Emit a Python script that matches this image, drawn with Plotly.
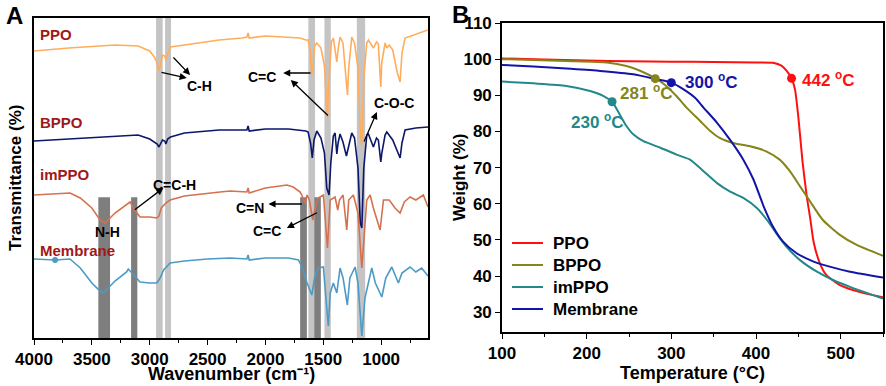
import plotly.graph_objects as go

# ---------------- Panel A: FTIR (wavenumber, transmittance in arbitrary offset units) -------------
wn_ppo = [4000, 3700, 3300, 3100, 3000, 2960, 2935, 2920, 2910, 2890, 2870, 2860, 2845, 2820, 2700,
          2500, 2400, 2200, 2160, 2150, 2140, 2000, 1800, 1700, 1650, 1631, 1610, 1600, 1590, 1575,
          1556, 1520, 1490, 1470, 1464, 1455, 1430, 1413, 1395, 1383, 1370, 1355, 1330, 1300, 1291,
          1280, 1254, 1230, 1200, 1180, 1167, 1150, 1124, 1110, 1067, 1040, 1024, 1010, 1003, 995,
          966, 951, 930, 900, 860, 836, 820, 793, 700, 663, 595]
tr_ppo = [287, 290, 293, 292, 287, 281, 275, 267, 272, 283, 282, 278, 284, 291, 293,
          296, 298, 300, 301, 305, 300, 302, 301, 300, 298, 298, 285, 263, 272, 292,
          295, 290, 272, 225, 220, 250, 296, 300, 286, 276, 290, 301, 295, 255, 243,
          270, 301, 295, 270, 205, 193, 260, 295, 298, 290, 296, 294, 265, 251, 275,
          295, 290, 293, 288, 265, 256, 285, 300, 304, 305, 308]

wn_bppo = [4000, 3700, 3300, 3100, 3000, 2960, 2935, 2920, 2910, 2890, 2870, 2860, 2845, 2820, 2700,
           2500, 2400, 2160, 2150, 2140, 2000, 1800, 1700, 1650, 1631, 1610, 1595, 1580, 1556, 1520,
           1490, 1470, 1450, 1435, 1413, 1398, 1383, 1372, 1355, 1330, 1300, 1286, 1254, 1230, 1200,
           1180, 1167, 1150, 1124, 1110, 1081, 1067, 1040, 1024, 1003, 994, 966, 951, 900, 851,
           836, 820, 793, 700, 595]
tr_bppo = [197, 199, 202, 203, 199, 196, 194, 191, 194, 198, 197, 194, 199, 201, 205,
           207, 208, 208, 212, 207, 209, 209, 208, 207, 206, 195, 180, 198, 207, 200,
           185, 150, 143, 175, 202, 205, 184, 195, 204, 196, 182, 190, 205, 200, 170,
           115, 110, 170, 203, 204, 195, 191, 200, 198, 176, 185, 203, 206, 198, 185,
           180, 195, 208, 210, 211]

wn_imppo = [4000, 3689, 3600, 3500, 3429, 3386, 3300, 3200, 3170, 3130, 3084, 3000, 2939, 2920, 2900,
            2860, 2824, 2700, 2500, 2392, 2306, 2160, 2150, 2140, 2000, 1815, 1760, 1700, 1686, 1657,
            1640, 1620, 1591, 1570, 1545, 1499, 1464, 1440, 1398, 1375, 1360, 1329, 1297, 1280, 1240,
            1200, 1167, 1124, 1095, 1067, 1009, 980, 930, 880, 836, 800, 750, 700, 635, 595]
tr_imppo = [143, 145, 140, 130, 118, 115, 125, 133, 136, 128, 121, 121, 120, 122, 130,
            135, 138, 142, 145, 146, 147, 146, 150, 145, 150, 153, 151, 146, 143, 135,
            143, 138, 118, 130, 140, 143, 90, 138, 141, 128, 138, 143, 108, 138, 143,
            125, 70, 138, 143, 130, 108, 138, 138, 130, 125, 136, 141, 138, 143, 131]

wn_mem = [4000, 3818, 3689, 3600, 3500, 3429, 3401, 3300, 3200, 3185, 3130, 3084, 3000, 2939, 2910,
          2880, 2824, 2700, 2500, 2306, 2160, 2150, 2140, 2000, 1800, 1715, 1680, 1640, 1599, 1575,
          1545, 1499, 1470, 1456, 1440, 1413, 1383, 1355, 1329, 1292, 1270, 1225, 1200, 1167, 1140,
          1081, 1050, 994, 960, 908, 851, 820, 750, 700, 650, 595]
tr_mem = [79, 78, 79, 70, 55, 47, 45, 57, 66, 69, 62, 56, 55, 55, 60,
          68, 75, 77, 79, 80, 79, 83, 78, 80, 80, 78, 70, 55, 43, 60,
          70, 71, 30, 12, 45, 55, 45, 70, 60, 33, 60, 71, 55, 2, 40,
          70, 55, 41, 60, 71, 55, 65, 71, 66, 70, 62]

ftir_names = ["PPO", "BPPO", "imPPO", "Membrane"]
ftir_colors = ["#FFAD5C", "#0B176B", "#D5714F", "#4C9BC5"]
label_color = "#A01818"

# highlighted bands (cm-1)
light_bands = [(2945, 2888), (2867, 2816), (1629, 1571), (1490, 1435), (1210, 1138)]
dark_bands = [(3444, 3343), (3161, 3107), (1700, 1642), (1577, 1521)]

# ---------------- Panel B: TGA -------------
T_ppo = [100, 150, 200, 250, 300, 350, 400, 420, 430, 436, 442, 446, 450, 455, 460, 464, 468, 475, 483, 499, 525, 550]
W_ppo = [100.2, 99.9, 99.6, 99.4, 99.3, 99.2, 99.1, 99.0, 98.2, 96.8, 94.7, 91.7, 84.0, 71.5, 62.0, 56.0, 49.5, 43.8, 40.3, 37.5, 35.4, 34.1]
T_bppo = [100, 176, 224, 247, 263, 282, 294, 306, 318, 334, 346, 357, 373, 393, 412, 428, 440, 452, 464, 479, 499, 519, 550]
W_bppo = [100, 99.5, 99.1, 98.1, 96.8, 94.6, 92.6, 89.8, 86.6, 82.9, 80.1, 78.2, 76.8, 75.9, 74.5, 72.2, 69.0, 64.8, 60.6, 55.5, 51.4, 48.6, 45.6]
T_imppo = [100, 137, 176, 204, 220, 230, 239, 247, 255, 267, 287, 306, 322, 338, 354, 369, 385, 401, 413, 424, 436, 452, 472, 491, 511, 535, 550]
W_imppo = [93.8, 93.3, 92.6, 91.2, 89.8, 88.2, 84.7, 81.5, 79.2, 77.3, 75.5, 73.6, 72.2, 69.0, 65.7, 63.4, 61.6, 58.8, 55.5, 51.8, 48.1, 44.4, 41.2, 38.9, 37.0, 35.0, 33.8]
T_mem = [100, 137, 176, 216, 255, 283, 300, 314, 328, 338, 354, 369, 385, 397, 409, 420, 432, 448, 468, 487, 511, 550]
W_mem = [98.4, 98.0, 97.4, 96.75, 95.8, 94.4, 93.5, 91.7, 89.3, 86.6, 82.4, 77.8, 72.2, 66.7, 59.3, 53.7, 49.5, 46.3, 44.0, 42.6, 41.2, 39.6]

tga_names = ["PPO", "BPPO", "imPPO", "Membrane"]
tga_colors = ["#FF1010", "#85851A", "#22888A", "#1414A8"]
onset_T = [442, 281, 230, 300]
onset_W = [94.7, 94.6, 88.2, 93.5]

FONT = "Arial, Liberation Sans, sans-serif"
W_PX, H_PX = 886, 386

fig = go.Figure()

ftir = [(wn_ppo, tr_ppo), (wn_bppo, tr_bppo), (wn_imppo, tr_imppo), (wn_mem, tr_mem)]
for (x, y), name, c in zip(ftir, ftir_names, ftir_colors):
    fig.add_trace(go.Scatter(x=x, y=y, mode="lines", line=dict(color=c, width=1.6),
                             showlegend=False, xaxis="x", yaxis="y", name=name))
# small dot on membrane curve
fig.add_trace(go.Scatter(x=[wn_mem[1]], y=[tr_mem[1]], mode="markers",
                         marker=dict(color=ftir_colors[3], size=6), showlegend=False,
                         xaxis="x", yaxis="y"))

tga = [(T_ppo, W_ppo), (T_bppo, W_bppo), (T_imppo, W_imppo), (T_mem, W_mem)]
for (x, y), name, c in zip(tga, tga_names, tga_colors):
    fig.add_trace(go.Scatter(x=x, y=y, mode="lines", line=dict(color=c, width=2, shape="spline", smoothing=0.6),
                             name=name, showlegend=False, xaxis="x2", yaxis="y2"))
for t, w, c in zip(onset_T, onset_W, tga_colors):
    fig.add_trace(go.Scatter(x=[t], y=[w], mode="markers", marker=dict(color=c, size=9),
                             showlegend=False, xaxis="x2", yaxis="y2"))

shapes = []
for a, b in light_bands:
    shapes.append(dict(type="rect", xref="x", yref="y domain", x0=a, x1=b, y0=0, y1=1,
                       fillcolor="#C4C4C4", line=dict(width=0), layer="below"))
for a, b in dark_bands:
    shapes.append(dict(type="rect", xref="x", yref="y domain", x0=a, x1=b, y0=0, y1=0.44,
                       fillcolor="#7E7E7E", line=dict(width=0), layer="below"))

ann = []
def txt(x, y, s, color="black", size=14, xanchor="center", xref="x", yref="y"):
    ann.append(dict(x=x, y=y, xref=xref, yref=yref, text="<b>%s</b>" % s, showarrow=False,
                    font=dict(family=FONT, size=size, color=color), xanchor=xanchor, yanchor="middle"))

def arrow(x0, y0, x1, y1):
    ann.append(dict(x=x1, y=y1, ax=x0, ay=y0, xref="x", yref="y", axref="x", ayref="y",
                    text="", showarrow=True, arrowhead=2, arrowsize=1.1, arrowwidth=1.3,
                    arrowcolor="black", standoff=0, startstandoff=0))

def paper_text(xpx, ypx, s, size, angle=0):
    ann.append(dict(x=xpx / W_PX, y=1 - ypx / H_PX, xref="paper", yref="paper", text="<b>%s</b>" % s,
                    showarrow=False, textangle=angle, font=dict(family=FONT, size=size, color="black"),
                    xanchor="center", yanchor="middle"))

# sample labels (panel A)
label_y = [303, 215, 163, 87]
for s, yy in zip(ftir_names, label_y):
    txt(3968, yy, s, color=label_color, size=15, xanchor="left")

# band assignments
txt(2568, 252, "C-H", size=14)
arrow(2807, 282, 2651, 263)
arrow(2911, 266, 2680, 260)
txt(2029, 261, "C=C", size=14)
arrow(1597, 265, 1847, 265)
arrow(1447, 221, 1781, 258)
txt(886, 235, "C-O-C", size=14)
arrow(1153, 195, 1037, 226)
txt(2790, 153, "C=C-H", size=14)
arrow(3142, 127, 2882, 150)
txt(3365, 106, "N-H", size=14)
txt(2133, 130, "C=N", size=14)
arrow(1672, 134, 1974, 134)
txt(1988, 107, "C=C", size=14)
arrow(1542, 126, 1815, 110)

# onset labels (panel B)
onset_text = ["442 <sup>o</sup>C", "281 <sup>o</sup>C", "230 <sup>o</sup>C", "300 <sup>o</sup>C"]
onset_pos = [(452, 94.4), (237, 91.0), (179.5, 83.0), (313.7, 94.0)]
for s, (x, y), c in zip(onset_text, onset_pos, tga_colors):
    ann.append(dict(x=x, y=y, xref="x2", yref="y2", text="<b>%s</b>" % s, showarrow=False,
                    font=dict(family=FONT, size=17, color=c), xanchor="left", yanchor="middle"))

# manual legend for panel B (line samples + names)
leg_y_px = [243, 265, 287, 309]
for name, c, ypx in zip(tga_names, tga_colors, leg_y_px):
    yp = 1 - ypx / H_PX
    shapes.append(dict(type="line", xref="paper", yref="paper", x0=512 / W_PX, x1=543 / W_PX,
                       y0=yp, y1=yp, line=dict(color=c, width=2)))
    ann.append(dict(x=551 / W_PX, y=yp, xref="paper", yref="paper", text="<b>%s</b>" % name,
                    showarrow=False, font=dict(family=FONT, size=17, color="black"),
                    xanchor="left", yanchor="middle"))

# axis titles
paper_text(231, 374, "Wavenumber (cm\u207b\u00b9)", 18)
paper_text(15, 178, "Transmittance (%)", 17, angle=-90)
paper_text(692, 373, "Temperature (\u00b0C)", 18)
paper_text(459, 177, "Weight (%)", 17, angle=-90)

# panel letters
ann.append(dict(x=4 / W_PX, y=1 - 15 / H_PX, xref="paper", yref="paper", text="<b>A</b>", showarrow=False,
                font=dict(family=FONT, size=24, color="black"), xanchor="left", yanchor="middle"))
ann.append(dict(x=450 / W_PX, y=1 - 14 / H_PX, xref="paper", yref="paper", text="<b>B</b>", showarrow=False,
                font=dict(family=FONT, size=24, color="black"), xanchor="left", yanchor="middle"))

axis_common = dict(showline=True, linecolor="black", linewidth=1.6, mirror=True, showgrid=False,
                   zeroline=False, ticks="outside", ticklen=5, tickwidth=1.4, tickcolor="black",
                   automargin=False,
                   tickfont=dict(family=FONT, size=17, color="black", weight="bold"))

fig.update_layout(
    width=W_PX, height=H_PX, margin=dict(l=0, r=0, t=0, b=0, autoexpand=False),
    paper_bgcolor="white", plot_bgcolor="white",
    font=dict(family=FONT, color="black"),
    shapes=shapes, annotations=ann, showlegend=False,
    xaxis=dict(**axis_common, domain=[34 / W_PX, 428 / W_PX], range=[4000, 595],
               tickvals=[4000, 3500, 3000, 2500, 2000, 1500, 1000],
               minor=dict(ticks="outside", ticklen=3, tickwidth=1.2, tickcolor="black", dtick=250, tick0=0),
               anchor="y"),
    yaxis=dict(showline=True, linecolor="black", linewidth=1.6, mirror=True, showgrid=False, zeroline=False,
               automargin=False,
               showticklabels=False, ticks="", domain=[1 - 338 / H_PX, 1 - 18 / H_PX], range=[0, 320],
               anchor="x"),
    xaxis2=dict(**axis_common, domain=[502 / W_PX, 883 / W_PX], range=[100, 550], dtick=100, tick0=100,
                minor=dict(ticks="outside", ticklen=3, tickwidth=1.2, tickcolor="black", dtick=50, tick0=100),
                anchor="y2"),
    yaxis2=dict(**axis_common, domain=[1 - 331.7 / H_PX, 1 - 23 / H_PX], range=[24.6, 110],
                tickvals=[30, 40, 50, 60, 70, 80, 90, 100, 110],
                anchor="x2"),
)

fig.write_html("out.html", config={"displayModeBar": False},
               post_script="document.body.style.margin='0px';document.body.style.overflow='hidden';")
